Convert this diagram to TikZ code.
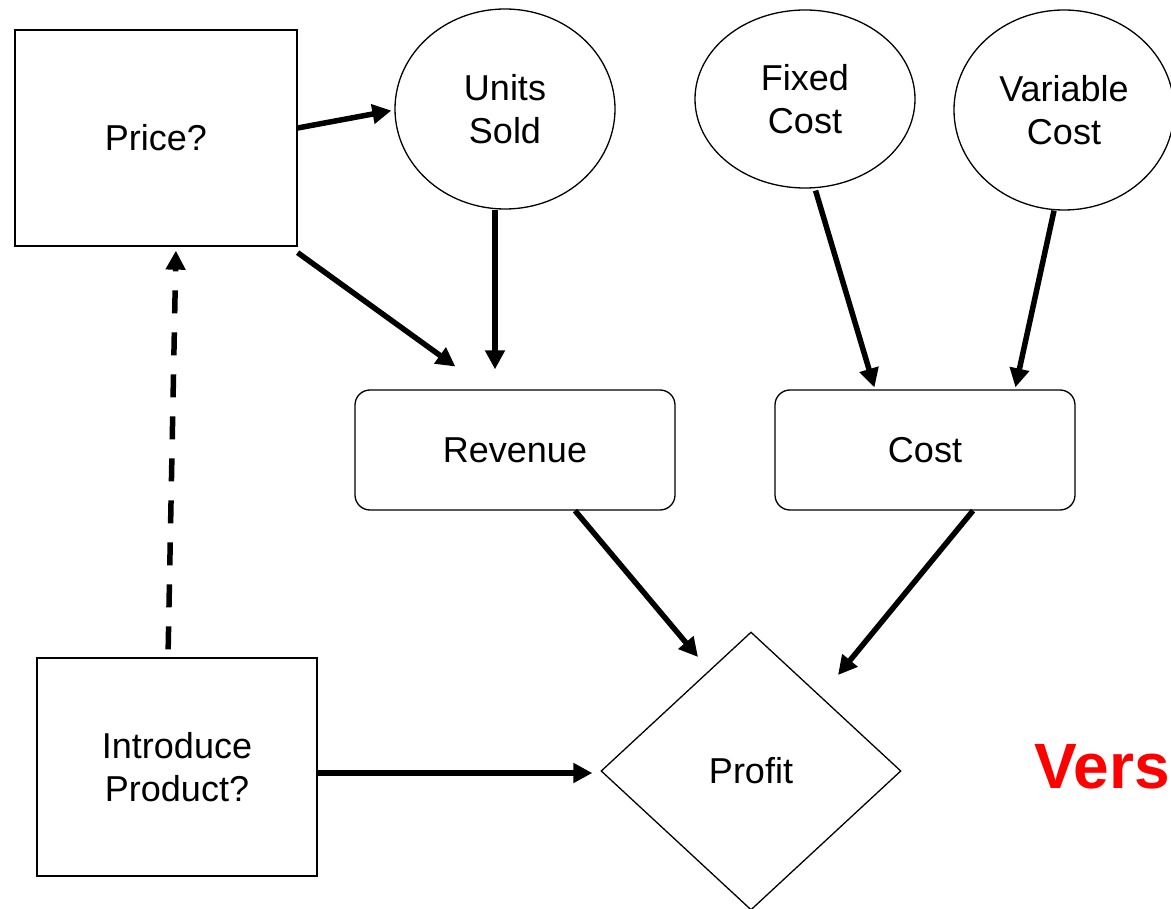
\documentclass[tikz,border=0pt]{standalone}
\usepackage{fontspec}
\setmainfont{Liberation Sans}
\usetikzlibrary{shapes.geometric,arrows.meta}
\begin{document}
\begin{tikzpicture}[x=1pt,y=-1pt,
  every node/.style={font=\fontsize{36}{43}\selectfont, align=center, inner sep=0pt},
  boxnode/.style={draw, line width=1.3pt, rectangle},
  roundnode/.style={draw, line width=1.3pt, rectangle, rounded corners=15pt, minimum width=320pt, minimum height=120pt},
  ellnode/.style={draw, line width=1.3pt, ellipse, minimum width=220pt, minimum height=200pt},
  arr/.style={line width=5.5pt, -{Triangle[length=19pt,width=19pt]}},
  darr/.style={arr, dash pattern=on 23pt off 19pt}
]
\useasboundingbox (0,0) rectangle (1171,909);
\node[boxnode, minimum width=282pt, minimum height=216pt] (price) at (156,138) {Price?};
\node[ellnode] (units) at (505,109) {Units\\Sold};
\node[ellnode, minimum height=178pt] (fixed) at (805,99) {Fixed\\Cost};
\node[ellnode] (var) at (1064,110) {Variable\\Cost};
\node[roundnode] (rev) at (515,450) {Revenue};
\node[roundnode, minimum width=300pt] (cost) at (925,450) {Cost};
\node[draw, line width=1.3pt, diamond, minimum width=300pt, minimum height=278pt, aspect=1.08] (profit) at (751,771) {Profit};
\node[boxnode, minimum width=280pt, minimum height=218pt] (intro) at (177,767) {Introduce\\Product?};
\node[text=red, font=\fontsize{64}{70}\selectfont\bfseries, anchor=base east] (ver) at (1170,788) {Vers};

\draw[arr, shorten >=3pt] ([yshift=10pt]price.east) -- ([yshift=-1pt]units.west);
\draw[arr, shorten >=39pt] ([yshift=-6pt]price.south east) -- ([xshift=-28pt]rev.north);
\draw[arr, shorten >=20pt] ([xshift=-10pt]units.south) -- ([xshift=-20pt]rev.north);
\draw[arr, shorten <=2pt, shorten >=2pt] ([xshift=10pt]fixed.south) -- ([xshift=-50pt]cost.north);
\draw[arr, shorten >=2pt] ([xshift=-10pt]var.south) -- ([xshift=90pt]cost.north);
\draw[arr] ([xshift=60pt]rev.south) -- ([xshift=-53pt,yshift=114pt]profit.center);
\draw[arr] ([xshift=48pt]cost.south) -- ([xshift=87pt,yshift=96pt]profit.center);
\draw[arr, shorten >=8pt] ([yshift=-6pt]intro.east) -- ([yshift=-2pt]profit.west);
\draw[darr, shorten <=8pt, shorten >=4pt] ([xshift=-9pt]intro.north) -- ([xshift=20pt]price.south);
\end{tikzpicture}
\end{document}
